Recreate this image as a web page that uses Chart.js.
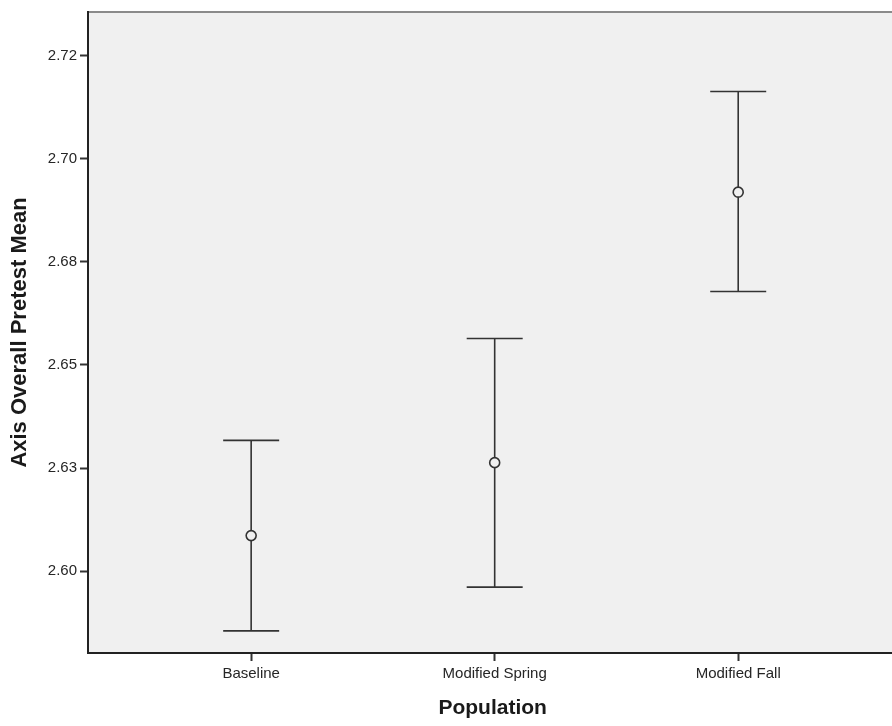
<!DOCTYPE html>
<html>
<head>
<meta charset="utf-8">
<script src="https://cdn.jsdelivr.net/npm/chart.js@4"></script>
<style>
  html, body { margin: 0; padding: 0; background: #fff; overflow: hidden; }
  #wrap { width: 892px; height: 726px; overflow: hidden; }
</style>
</head>
<body>
<div id="wrap"><canvas id="chart" width="904" height="726"></canvas></div>
<script>
// Data
const categories = ['Baseline', 'Modified Spring', 'Modified Fall'];
const means = [2.6086, 2.6263, 2.6919];
const upper = [2.6317, 2.6564, 2.7163];
const lower = [2.5855, 2.5961, 2.6678];
const yTickValues = [2.600, 2.625, 2.650, 2.675, 2.700, 2.725];
const yTickLabels = ['2.60', '2.63', '2.65', '2.68', '2.70', '2.72'];

const ink = '#333333';

// Shaded plot background plus the grey top edge
const backdrop = {
  id: 'backdrop',
  beforeDraw(chart) {
    const { ctx, chartArea: a } = chart;
    ctx.save();
    ctx.fillStyle = '#f0f0f0';
    ctx.fillRect(a.left, a.top, a.right - a.left, a.bottom - a.top);
    ctx.strokeStyle = '#8a8a8a';
    ctx.lineWidth = 2;
    ctx.beginPath();
    ctx.moveTo(a.left, a.top);
    ctx.lineTo(a.right, a.top);
    ctx.stroke();
    ctx.restore();
  }
};

// Error bars (whiskers + caps) through the chart scales
const errorBars = {
  id: 'errorBars',
  afterDatasetsDraw(chart) {
    const { ctx, scales: { x, y } } = chart;
    const cap = 28;
    ctx.save();
    ctx.strokeStyle = ink;
    ctx.lineWidth = 1.6;
    categories.forEach((_, i) => {
      const px = x.getPixelForValue(i);
      const pt = y.getPixelForValue(upper[i]);
      const pb = y.getPixelForValue(lower[i]);
      const pm = y.getPixelForValue(means[i]);
      const r = 5;
      ctx.beginPath();
      ctx.moveTo(px, pt); ctx.lineTo(px, pm - r);
      ctx.moveTo(px, pm + r); ctx.lineTo(px, pb);
      ctx.moveTo(px - cap, pt); ctx.lineTo(px + cap, pt);
      ctx.moveTo(px - cap, pb); ctx.lineTo(px + cap, pb);
      ctx.stroke();
    });
    ctx.restore();
  }
};

new Chart(document.getElementById('chart'), {
  type: 'scatter',
  data: {
    datasets: [{
      data: means.map((m, i) => ({ x: i, y: m })),
      pointStyle: 'circle',
      pointRadius: 5,
      pointBorderWidth: 1.6,
      pointBorderColor: ink,
      pointBackgroundColor: 'rgba(0,0,0,0)',
      pointHoverRadius: 5
    }]
  },
  options: {
    responsive: false,
    animation: false,
    layout: { padding: { top: 9, right: 0, left: 0, bottom: 0 } },
    plugins: {
      legend: { display: false },
      tooltip: { enabled: false }
    },
    scales: {
      x: {
        type: 'linear',
        min: -0.670,
        max: 2.6537,
        afterBuildTicks(scale) {
          scale.ticks = categories.map((_, i) => ({ value: i }));
        },
        afterFit(scale) { scale.height = 73; },
        grid: {
          drawOnChartArea: false,
          drawTicks: true,
          tickLength: 8,
          tickWidth: 2,
          color: ink
        },
        border: { display: true, color: '#222', width: 2 },
        ticks: {
          autoSkip: false,
          maxRotation: 0,
          padding: 4,
          color: '#262626',
          font: { family: 'Liberation Sans', size: 15 },
          callback: (v) => categories[v]
        },
        title: {
          display: true,
          text: 'Population',
          color: '#1a1a1a',
          font: { family: 'Liberation Sans', size: 21, weight: 'bold' },
          padding: { top: 0, bottom: 5 }
        }
      },
      y: {
        min: 2.58013,
        max: 2.7356,
        afterBuildTicks(scale) {
          scale.ticks = yTickValues.map(v => ({ value: v }));
        },
        afterFit(scale) { scale.width = 88; },
        grid: {
          drawOnChartArea: false,
          drawTicks: true,
          tickLength: 8,
          tickWidth: 2,
          color: ink
        },
        border: { display: true, color: '#222', width: 2 },
        ticks: {
          padding: 3,
          color: '#262626',
          font: { family: 'Liberation Sans', size: 15 },
          callback: (v) => yTickLabels[yTickValues.findIndex(t => Math.abs(t - v) < 1e-9)]
        },
        title: {
          display: true,
          text: 'Axis Overall Pretest Mean',
          color: '#1a1a1a',
          font: { family: 'Liberation Sans', size: 22, weight: 'bold' },
          padding: { top: 7, bottom: 0 }
        }
      }
    }
  },
  plugins: [backdrop, errorBars]
});
</script>
</body>
</html>
